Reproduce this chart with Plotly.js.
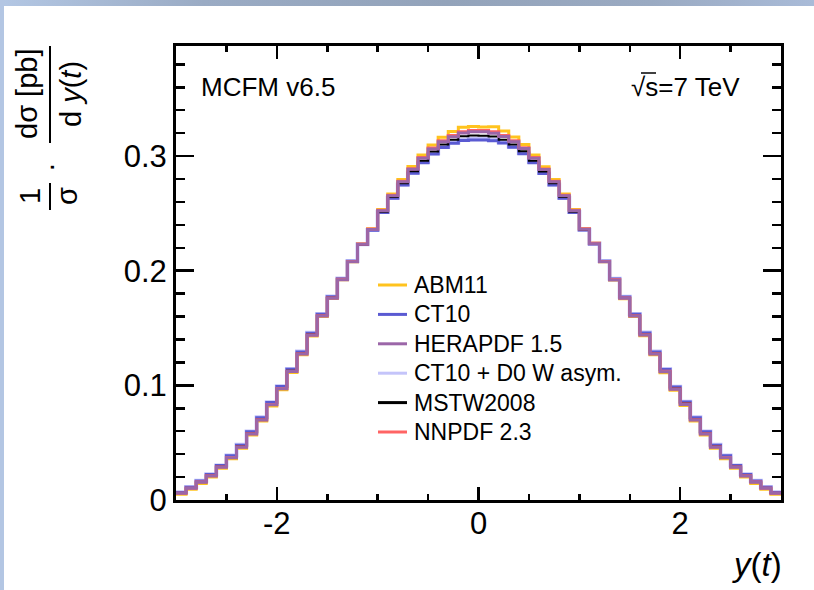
<!DOCTYPE html>
<html>
<head>
<meta charset="utf-8">
<script src="https://cdn.plot.ly/plotly-3.0.1.min.js"></script>
<style>
  html, body { margin: 0; padding: 0; background: #ffffff; }
  #wrap { position: relative; width: 814px; height: 590px; overflow: hidden; background: #ffffff; }
  #chart { position: absolute; left: 0; top: 0; width: 814px; height: 590px; }
  #topband { position: absolute; left: 0; top: 0; width: 814px; height: 6px;
    background: linear-gradient(to right, #b3c7e4 0%, #9aabc4 25%, #93a3ba 55%, #9aaac2 80%, #a9bbd8 100%); }
  #leftband { position: absolute; left: 0; top: 0; width: 4px; height: 590px; background: #b3c6e3; }
</style>
</head>
<body>
<div id="wrap">
  <div id="chart"></div>
  <div id="topband"></div>
  <div id="leftband"></div>
</div>
<script>
// Bin edges of the top-quark rapidity histogram, y(t) from -3 to 3 in steps of 0.1
const binEdges = [-3.0, -2.9, -2.8, -2.7, -2.6, -2.5, -2.4, -2.3, -2.2, -2.1,
  -2.0, -1.9, -1.8, -1.7, -1.6, -1.5, -1.4, -1.3, -1.2, -1.1,
  -1.0, -0.9, -0.8, -0.7, -0.6, -0.5, -0.4, -0.3, -0.2, -0.1,
  0.0, 0.1, 0.2, 0.3, 0.4, 0.5, 0.6, 0.7, 0.8, 0.9,
  1.0, 1.1, 1.2, 1.3, 1.4, 1.5, 1.6, 1.7, 1.8, 1.9,
  2.0, 2.1, 2.2, 2.3, 2.4, 2.5, 2.6, 2.7, 2.8, 2.9, 3.0];

// Normalised distributions (1/sigma dsigma/dy) per PDF set, one value per bin
const abm11 = [0.0050, 0.0094, 0.0145, 0.0200, 0.0276, 0.0360, 0.0451, 0.0566, 0.0688, 0.0820,
  0.0961, 0.1112, 0.1266, 0.1431, 0.1600, 0.1757, 0.1921, 0.2079, 0.2233, 0.2365,
  0.2533, 0.2669, 0.2796, 0.2909, 0.3010, 0.3097, 0.3165, 0.3214, 0.3252, 0.3257,
  0.3254, 0.3256, 0.3218, 0.3166, 0.3100, 0.3010, 0.2907, 0.2796, 0.2669, 0.2533,
  0.2367, 0.2239, 0.2079, 0.1918, 0.1756, 0.1600, 0.1433, 0.1266, 0.1111, 0.0957,
  0.0824, 0.0688, 0.0566, 0.0451, 0.0360, 0.0276, 0.0200, 0.0145, 0.0094, 0.0050];

const ct10 = [0.0066, 0.0112, 0.0166, 0.0222, 0.0300, 0.0386, 0.0478, 0.0595, 0.0718, 0.0850,
  0.0990, 0.1140, 0.1292, 0.1455, 0.1620, 0.1772, 0.1930, 0.2082, 0.2228, 0.2352,
  0.2508, 0.2632, 0.2748, 0.2850, 0.2942, 0.3018, 0.3075, 0.3112, 0.3135, 0.3140,
  0.3141, 0.3133, 0.3113, 0.3076, 0.3020, 0.2942, 0.2848, 0.2748, 0.2632, 0.2508,
  0.2354, 0.2234, 0.2082, 0.1927, 0.1771, 0.1620, 0.1457, 0.1292, 0.1139, 0.0985,
  0.0854, 0.0718, 0.0595, 0.0478, 0.0386, 0.0300, 0.0222, 0.0166, 0.0112, 0.0066];

const herapdf15 = [0.0058, 0.0102, 0.0154, 0.0209, 0.0285, 0.0369, 0.0460, 0.0576, 0.0698, 0.0830,
  0.0970, 0.1120, 0.1273, 0.1437, 0.1605, 0.1760, 0.1922, 0.2078, 0.2230, 0.2360,
  0.2523, 0.2654, 0.2776, 0.2884, 0.2980, 0.3062, 0.3125, 0.3169, 0.3202, 0.3212,
  0.3212, 0.3200, 0.3170, 0.3125, 0.3065, 0.2980, 0.2882, 0.2776, 0.2654, 0.2523,
  0.2362, 0.2236, 0.2078, 0.1919, 0.1759, 0.1605, 0.1439, 0.1273, 0.1119, 0.0965,
  0.0834, 0.0698, 0.0576, 0.0460, 0.0369, 0.0285, 0.0209, 0.0154, 0.0102, 0.0058];

const ct10d0 = [0.0068, 0.0114, 0.0168, 0.0224, 0.0302, 0.0388, 0.0481, 0.0598, 0.0721, 0.0853,
  0.0993, 0.1143, 0.1295, 0.1458, 0.1622, 0.1774, 0.1932, 0.2084, 0.2231, 0.2355,
  0.2512, 0.2637, 0.2753, 0.2856, 0.2948, 0.3024, 0.3082, 0.3120, 0.3143, 0.3150,
  0.3150, 0.3142, 0.3121, 0.3083, 0.3026, 0.2948, 0.2854, 0.2753, 0.2637, 0.2512,
  0.2357, 0.2237, 0.2084, 0.1929, 0.1773, 0.1622, 0.1460, 0.1295, 0.1142, 0.0988,
  0.0857, 0.0721, 0.0598, 0.0481, 0.0388, 0.0302, 0.0224, 0.0168, 0.0114, 0.0068];

const mstw2008 = [0.0060, 0.0104, 0.0157, 0.0213, 0.0290, 0.0374, 0.0466, 0.0582, 0.0705, 0.0837,
  0.0977, 0.1127, 0.1280, 0.1443, 0.1610, 0.1764, 0.1924, 0.2078, 0.2228, 0.2355,
  0.2515, 0.2643, 0.2762, 0.2867, 0.2960, 0.3040, 0.3100, 0.3142, 0.3172, 0.3180,
  0.3178, 0.3170, 0.3143, 0.3100, 0.3043, 0.2960, 0.2865, 0.2762, 0.2643, 0.2515,
  0.2357, 0.2234, 0.2078, 0.1921, 0.1763, 0.1610, 0.1445, 0.1280, 0.1126, 0.0972,
  0.0841, 0.0705, 0.0582, 0.0466, 0.0374, 0.0290, 0.0213, 0.0157, 0.0104, 0.0060];

const nnpdf23 = [0.0059, 0.0103, 0.0156, 0.0211, 0.0287, 0.0371, 0.0462, 0.0578, 0.0700, 0.0832,
  0.0973, 0.1123, 0.1276, 0.1440, 0.1608, 0.1763, 0.1925, 0.2081, 0.2233, 0.2363,
  0.2527, 0.2658, 0.2781, 0.2890, 0.2987, 0.3070, 0.3134, 0.3179, 0.3213, 0.3222,
  0.3223, 0.3211, 0.3180, 0.3134, 0.3073, 0.2987, 0.2888, 0.2781, 0.2658, 0.2527,
  0.2366, 0.2240, 0.2081, 0.1923, 0.1762, 0.1608, 0.1442, 0.1276, 0.1123, 0.0968,
  0.0837, 0.0700, 0.0578, 0.0462, 0.0371, 0.0287, 0.0211, 0.0156, 0.0103, 0.0059];

// Legend order and styles
const seriesNames = ['ABM11', 'CT10', 'HERAPDF 1.5', 'CT10 + D0 W asym.', 'MSTW2008', 'NNPDF 2.3'];
const seriesValues = [abm11, ct10, herapdf15, ct10d0, mstw2008, nnpdf23];
const seriesColors = ['#ffc31e', '#5a5ad2', '#9b66a8', '#c4c4fa', '#000000', '#ff6464'];
const seriesWidths = [3, 3, 3, 4, 2, 3];
// drawing order (HERAPDF on top)
const drawOrder = [3, 0, 1, 4, 5, 2];

const yTickVals = [0, 0.1, 0.2, 0.3];
const yTickText = ['0', '0.1', '0.2', '0.3'];
const xTickVals = [-2, 0, 2];
const xTickText = ['-2', '0', '2'];

// plot area in pixels
const L = 176, R = 781, T = 46, B = 500;
const W = 814, H = 590;
const px = v => (v - L) / (R - L);
const py = v => (B - v) / (B - T);

const FONT = 'Liberation Sans, Arial, Helvetica, sans-serif';

const traces = drawOrder.map(k => {
  const vals = seriesValues[k];
  return {
    type: 'scatter',
    mode: 'lines',
    x: binEdges,
    y: vals.concat([vals[vals.length - 1]]),
    line: { shape: 'hv', color: seriesColors[k], width: seriesWidths[k] },
    name: seriesNames[k],
    showlegend: false,
    hoverinfo: 'skip'
  };
});

const annotations = [];
const shapes = [];

// legend drawn as line samples + labels
const legY0 = 285, legDy = 29.4;
seriesNames.forEach((name, k) => {
  const yy = legY0 + k * legDy;
  shapes.push({
    type: 'line', xref: 'paper', yref: 'paper',
    x0: px(378), x1: px(407), y0: py(yy), y1: py(yy),
    line: { color: seriesColors[k], width: 3 }
  });
  annotations.push({
    xref: 'paper', yref: 'paper', x: px(412), y: py(yy),
    xanchor: 'left', yanchor: 'middle', showarrow: false,
    text: name, font: { family: FONT, size: 23, color: '#000' }
  });
});

// in-frame labels
annotations.push({
  xref: 'paper', yref: 'paper', x: px(199), y: py(87),
  xanchor: 'left', yanchor: 'middle', showarrow: false,
  text: 'MCFM v6.5', font: { family: FONT, size: 26, color: '#000' }
});
annotations.push({
  xref: 'paper', yref: 'paper', x: px(742), y: py(87),
  xanchor: 'right', yanchor: 'middle', showarrow: false,
  text: '\u221As=7 TeV', font: { family: FONT, size: 26, color: '#000' }
});
// bar over the "s" of the square root
shapes.push({ type: 'line', xref: 'paper', yref: 'paper',
  x0: px(641), x1: px(656), y0: py(73), y1: py(73), line: { color: '#000', width: 1.5 } });

// x-axis title
annotations.push({
  xref: 'paper', yref: 'paper', x: px(784), y: py(564),
  xanchor: 'right', yanchor: 'middle', showarrow: false,
  text: '<i>y</i>(<i>t</i>)', font: { family: FONT, size: 33, color: '#000' }
});

// y-axis title: 1/sigma . dsigma[pb] / d y(t), rotated
const yt = (text, x, y, size) => ({
  xref: 'paper', yref: 'paper', x: px(x), y: py(y),
  xanchor: 'center', yanchor: 'middle', showarrow: false, textangle: -90,
  text: text, font: { family: FONT, size: size, color: '#000' }
});
annotations.push(yt('1', 30, 196, 29));
annotations.push(yt('\u03C3', 67, 196, 29));
annotations.push(yt('\u00B7', 50, 167, 29));
annotations.push(yt('d\u03C3 [pb]', 27, 94, 29));
annotations.push(yt('d <i>y</i>(<i>t</i>)', 71, 94, 29));
shapes.push({ type: 'line', xref: 'paper', yref: 'paper',
  x0: px(50), x1: px(50), y0: py(183), y1: py(210), line: { color: '#000', width: 2 } });
shapes.push({ type: 'line', xref: 'paper', yref: 'paper',
  x0: px(50), x1: px(50), y0: py(46), y1: py(143), line: { color: '#000', width: 2 } });

const axisCommon = {
  showgrid: false, zeroline: false, showline: true, mirror: 'allticks',
  linecolor: '#000', linewidth: 3, ticks: 'inside', tickcolor: '#000', tickwidth: 2.5,
  tickfont: { family: FONT, size: 31, color: '#000' }, fixedrange: true
};

const layout = {
  width: W, height: H,
  margin: { l: L, r: W - R, t: T, b: H - B, pad: 0 },
  paper_bgcolor: '#ffffff', plot_bgcolor: '#ffffff',
  showlegend: false,
  xaxis: Object.assign({}, axisCommon, {
    range: [-3, 3], tickmode: 'array', tickvals: xTickVals, ticktext: xTickText, ticklen: 13,
    ticklabelstandoff: -6,
    minor: { ticks: 'inside', dtick: 0.5, tick0: 0, ticklen: 6, tickwidth: 2.5, tickcolor: '#000' }
  }),
  yaxis: Object.assign({}, axisCommon, {
    range: [0, 0.396], tickmode: 'array', tickvals: yTickVals, ticktext: yTickText, ticklen: 18,
    minor: { ticks: 'inside', dtick: 0.02, tick0: 0, ticklen: 9, tickwidth: 2.5, tickcolor: '#000' }
  }),
  annotations: annotations,
  shapes: shapes
};

Plotly.newPlot('chart', traces, layout, { staticPlot: true, displayModeBar: false });
</script>
</body>
</html>
